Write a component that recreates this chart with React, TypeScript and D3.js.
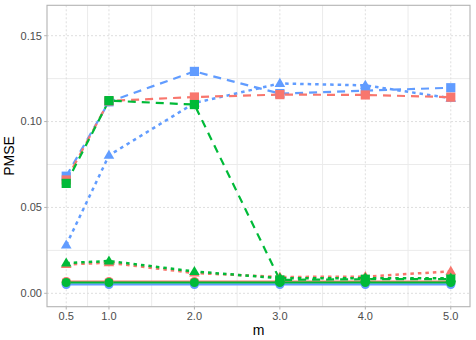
import React from "react";
import * as d3 from "d3";

const mValues = [0.5, 1, 2, 3, 4, 5];
const xTicks = [0.5, 1, 2, 3, 4, 5];
const xMinor = [0.75, 1.5, 2.5, 3.5, 4.5];
const yTicks = [0, 0.05, 0.1, 0.15];
const yMinor = [0.025, 0.075, 0.125];

// group colours (ggplot default hue palette)
const groups = ["A", "B", "C"];
const groupColors = ["#F8766D", "#00BA38", "#619CFF"];
// type: solid/circle, dashed/square, dotted/triangle
const types = ["solid", "dashed", "dotted"];

const redSolid = [0.0068, 0.0068, 0.0068, 0.0068, 0.0068, 0.0068];
const greenSolid = [0.0063, 0.0063, 0.0063, 0.0063, 0.0063, 0.0063];
const blueSolid = [0.0052, 0.0052, 0.0052, 0.0052, 0.0052, 0.0052];

const redDashed = [0.066, 0.112, 0.1143, 0.1157, 0.1155, 0.1142];
const greenDashed = [0.064, 0.1122, 0.1099, 0.0078, 0.0082, 0.0083];
const blueDashed = [0.0682, 0.1115, 0.1292, 0.1163, 0.118, 0.1197];

const redDotted = [0.0168, 0.0178, 0.0118, 0.0095, 0.0097, 0.0128];
const greenDotted = [0.0176, 0.0188, 0.0127, 0.0088, 0.0088, 0.0088];
const blueDotted = [0.0281, 0.0803, 0.1108, 0.1222, 0.1211, 0.1136];

const seriesValues: Record<string, number[][]> = {
  A: [redSolid, redDashed, redDotted],
  B: [greenSolid, greenDashed, greenDotted],
  C: [blueSolid, blueDashed, blueDotted],
};

const W = 476;
const H = 340;
const left = 47;
const right = 470;
const top = 5.3;
const bottom = 306.7;

const dashFor: Record<string, string | undefined> = {
  solid: undefined,
  dashed: "8,6",
  dotted: "3.5,4",
};

export default function App() {
  const x = d3.scaleLinear().domain([0.275, 5.225]).range([left, right]);
  const y = d3.scaleLinear().domain([-0.0078, 0.1677]).range([bottom, top]);
  const line = d3
    .line<number>()
    .x((_, i) => x(mValues[i]))
    .y((d) => y(d));

  const drawOrder = ["C", "A", "B"]; // blue, red, green
  const fmtX = d3.format(".1f");
  const fmtY = d3.format(".2f");

  const marker = (t: string, cx: number, cy: number, color: string, key: string) => {
    if (t === "solid") return <circle key={key} cx={cx} cy={cy} r={4.6} fill={color} />;
    if (t === "dashed")
      return <rect key={key} x={cx - 4.6} y={cy - 4.6} width={9.2} height={9.2} fill={color} />;
    const s = 5.6;
    const pts = `${cx},${cy - s} ${cx + s * 0.95},${cy + s * 0.62} ${cx - s * 0.95},${cy + s * 0.62}`;
    return <polygon key={key} points={pts} fill={color} />;
  };

  return (
    <svg
      width={W}
      height={H}
      style={{ position: "absolute", left: 0, top: 0, background: "#fff" }}
      fontFamily="Liberation Sans, Arial, sans-serif"
    >
      <rect x={0} y={0} width={W} height={H} fill="#fff" />
      {/* minor grid */}
      {xMinor.map((v) => (
        <line key={"xm" + v} x1={x(v)} x2={x(v)} y1={top} y2={bottom} stroke="#EBEBEB" strokeWidth={1} />
      ))}
      {yMinor.map((v) => (
        <line key={"ym" + v} x1={left} x2={right} y1={y(v)} y2={y(v)} stroke="#EBEBEB" strokeWidth={1} />
      ))}
      {/* major grid (dotted) */}
      {xTicks.map((v) => (
        <line key={"xg" + v} x1={x(v)} x2={x(v)} y1={top} y2={bottom} stroke="#DEDEDE" strokeWidth={1} strokeDasharray="2,2" />
      ))}
      {yTicks.map((v) => (
        <line key={"yg" + v} x1={left} x2={right} y1={y(v)} y2={y(v)} stroke="#DEDEDE" strokeWidth={1} strokeDasharray="2,2" />
      ))}

      {/* lines */}
      {drawOrder.map((g) =>
        types.map((t, ti) => (
          <path
            key={"l" + g + t}
            d={line(seriesValues[g][ti]) || ""}
            fill="none"
            stroke={groupColors[groups.indexOf(g)]}
            strokeWidth={t === "dotted" ? 2.5 : 2.2}
            strokeDasharray={dashFor[t]}
          />
        ))
      )}
      {/* points */}
      {drawOrder.map((g) =>
        types.map((t, ti) =>
          seriesValues[g][ti].map((v, i) =>
            marker(t, x(mValues[i]), y(v), groupColors[groups.indexOf(g)], `p${g}${t}${i}`)
          )
        )
      )}

      {/* panel border */}
      <rect x={left} y={top} width={right - left} height={bottom - top} fill="none" stroke="#B3B3B3" strokeWidth={1.1} />

      {/* ticks and labels */}
      {xTicks.map((v) => (
        <g key={"xt" + v}>
          <line x1={x(v)} x2={x(v)} y1={bottom} y2={bottom + 2.8} stroke="#B3B3B3" strokeWidth={1} />
          <text x={x(v)} y={bottom + 13.5} textAnchor="middle" fontSize={11} fill="#4D4D4D">
            {fmtX(v)}
          </text>
        </g>
      ))}
      {yTicks.map((v) => (
        <g key={"yt" + v}>
          <line x1={left - 2.8} x2={left} y1={y(v)} y2={y(v)} stroke="#B3B3B3" strokeWidth={1} />
          <text x={left - 5} y={y(v) + 3.9} textAnchor="end" fontSize={11} fill="#4D4D4D">
            {fmtY(v)}
          </text>
        </g>
      ))}
      <text x={(left + right) / 2} y={335} textAnchor="middle" fontSize={14} fill="#000">
        m
      </text>
      <text
        transform={`translate(14, ${(top + bottom) / 2}) rotate(-90)`}
        textAnchor="middle"
        fontSize={14}
        fill="#000"
      >
        PMSE
      </text>
    </svg>
  );
}
